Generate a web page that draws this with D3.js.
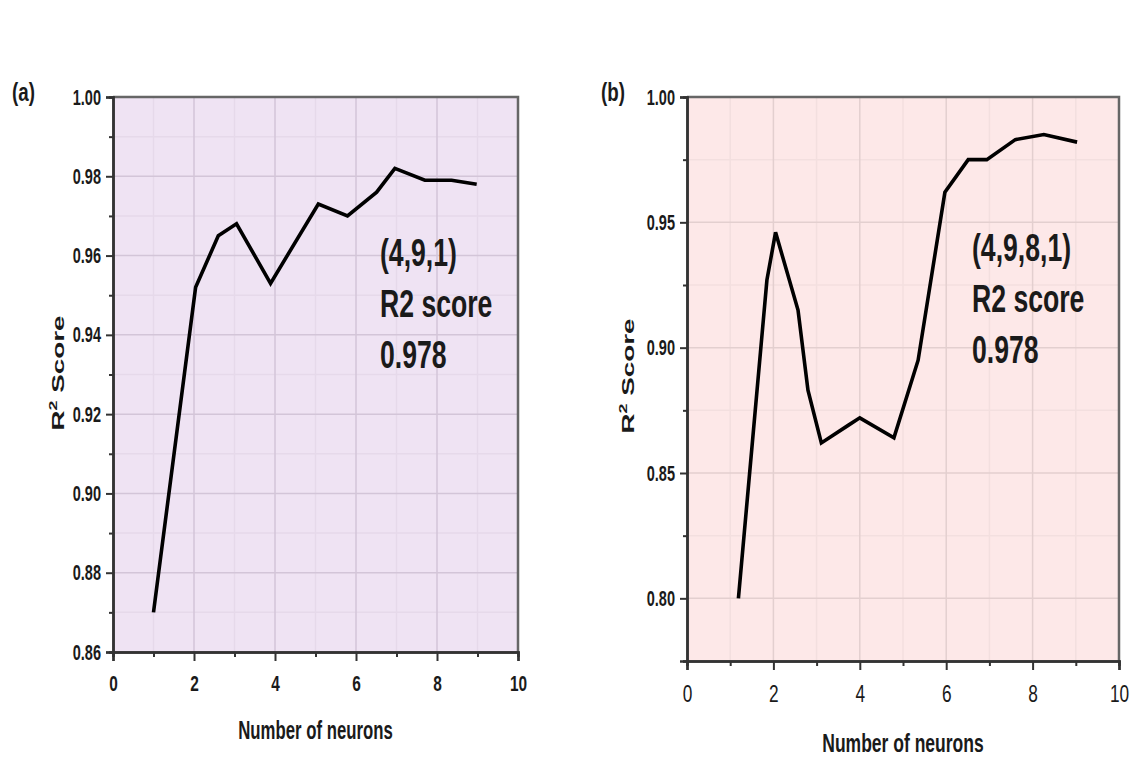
<!DOCTYPE html>
<html>
<head>
<meta charset="utf-8">
<script src="https://cdn.jsdelivr.net/npm/d3@7"></script>
<style>
  html, body { margin: 0; padding: 0; background: #fff; overflow: hidden; }
  svg { display: block; }
  text { font-family: "Liberation Sans Narrow", "Liberation Sans", Arial, sans-serif; fill: #1a1a1a; }
</style>
</head>
<body>
<div id="chart"></div>
<script>
// values
const neuronsA = [1, 2.04, 2.6, 3.05, 3.89, 5.07, 5.79, 6.51, 6.96, 7.7, 8.36, 8.98];
const scoreA   = [0.870, 0.952, 0.965, 0.968, 0.953, 0.973, 0.970, 0.976, 0.982, 0.979, 0.979, 0.978];

const neuronsB = [1.19, 1.85, 2.05, 2.57, 2.8, 3.11, 3.73, 4.0, 4.79, 5.35, 5.97, 6.51, 6.94, 7.6, 8.26, 9.03];
const scoreB   = [0.800, 0.927, 0.946, 0.915, 0.883, 0.862, 0.869, 0.872, 0.864, 0.895, 0.962, 0.975, 0.975, 0.983, 0.985, 0.982];

const xTicks  = [0, 2, 4, 6, 8, 10];
const yTicksA = [0.86, 0.88, 0.90, 0.92, 0.94, 0.96, 0.98, 1.00];
const yTicksB = [0.80, 0.85, 0.90, 0.95, 1.00];

const notesA = ["(4,9,1)", "R2 score", "0.978"];
const notesB = ["(4,9,8,1)", "R2 score", "0.978"];

const width = 1133, height = 775;

const svg = d3.select("#chart").append("svg")
    .attr("width", width)
    .attr("height", height);

// squeeze text horizontally to mimic the tall condensed face of the original
function narrow(sel, f) {
  sel.each(function() {
    const w = this.getComputedTextLength();
    if (w > 0) {
      d3.select(this).attr("textLength", w * f).attr("lengthAdjust", "spacingAndGlyphs");
    }
  });
}

function drawPanel(p) {
  const x = d3.scaleLinear().domain([0, 10]).range([p.left, p.right]);
  const y = d3.scaleLinear().domain(p.yDomain).range([p.bottom, p.top]);
  const g = svg.append("g");

  // background
  g.append("rect")
      .attr("x", p.left).attr("y", p.top)
      .attr("width", p.right - p.left).attr("height", p.bottom - p.top)
      .attr("fill", p.bg);

  // minor grid
  const xMinor = d3.range(1, 10, 2);
  const yMinor = p.yMajor.slice(0, -1).map(v => v + p.yStep / 2)
      .concat(p.yDomain[0] < p.yMajor[0] ? [p.yMajor[0] - p.yStep / 2] : []);
  g.append("g").attr("stroke", p.minorGrid).attr("stroke-width", 1.5)
    .selectAll("line").data(xMinor).join("line")
      .attr("x1", d => x(d)).attr("x2", d => x(d))
      .attr("y1", p.top).attr("y2", p.bottom);
  g.append("g").attr("stroke", p.minorGrid).attr("stroke-width", 1.5)
    .selectAll("line").data(yMinor).join("line")
      .attr("x1", p.left).attr("x2", p.right)
      .attr("y1", d => y(d)).attr("y2", d => y(d));

  // major grid
  g.append("g").attr("stroke", p.majorGrid).attr("stroke-width", 1.5)
    .selectAll("line").data(xTicks.slice(1, -1)).join("line")
      .attr("x1", d => x(d)).attr("x2", d => x(d))
      .attr("y1", p.top).attr("y2", p.bottom);
  g.append("g").attr("stroke", p.majorGrid).attr("stroke-width", 1.5)
    .selectAll("line").data(p.yMajor.filter(v => v < p.yDomain[1])).join("line")
      .attr("x1", p.left).attr("x2", p.right)
      .attr("y1", d => y(d)).attr("y2", d => y(d));

  // top and right frame
  g.append("path")
      .attr("d", `M${p.left},${p.top}H${p.right}V${p.bottom}`)
      .attr("fill", "none").attr("stroke", "#666").attr("stroke-width", 2.5);

  // axes
  const xAxis = d3.axisBottom(x).tickValues(xTicks).tickSize(9).tickPadding(p.xPad).tickFormat(d3.format("d"));
  const xMinorAxis = d3.axisBottom(x).tickValues(xMinor).tickSize(5).tickFormat("");
  const yAxis = d3.axisLeft(y).tickValues(p.yMajor).tickSize(7).tickPadding(5).tickFormat(d3.format(".2f"));
  const yMinorAxis = d3.axisLeft(y).tickValues(yMinor).tickSize(4).tickFormat("");

  const gx = g.append("g").attr("transform", `translate(0,${p.bottom})`).call(xAxis);
  g.append("g").attr("transform", `translate(0,${p.bottom})`).call(xMinorAxis);
  const gy = g.append("g").attr("transform", `translate(${p.left},0)`).call(yAxis);
  g.append("g").attr("transform", `translate(${p.left},0)`).call(yMinorAxis);

  g.selectAll(".domain").attr("stroke", "#333").attr("stroke-width", 2.5);
  g.selectAll(".tick line").attr("stroke", "#333").attr("stroke-width", 2);
  gx.selectAll("text").attr("font-size", p.xFont).attr("font-weight", p.xWeight).attr("fill", "#1a1a1a")
      .call(narrow, p.xNarrow);
  gy.selectAll("text").attr("font-size", 22).attr("font-weight", "bold").attr("fill", "#1a1a1a")
      .call(narrow, 0.66);

  // data line
  const pts = p.xs.map((v, i) => [v, p.ys[i]]);
  g.append("path")
      .datum(pts)
      .attr("fill", "none")
      .attr("stroke", "#000")
      .attr("stroke-width", 3.6)
      .attr("stroke-linejoin", "miter")
      .attr("d", d3.line().x(d => x(d[0])).y(d => y(d[1])));

  // annotation
  g.append("g").selectAll("text").data(p.notes).join("text")
      .attr("x", p.noteX)
      .attr("y", (d, i) => p.noteY + i * 51)
      .attr("font-size", 38)
      .attr("font-weight", "bold")
      .text(d => d)
      .call(narrow, 0.7);

  // panel letter
  g.append("text")
      .attr("x", p.letterX).attr("y", 101)
      .attr("font-size", 25).attr("font-weight", "bold")
      .text(p.letter)
      .call(narrow, 0.75);

  // axis titles
  g.append("text")
      .attr("x", (p.left + p.right) / 2)
      .attr("y", p.xTitleY)
      .attr("text-anchor", "middle")
      .attr("font-size", 25).attr("font-weight", "bold")
      .text("Number of neurons")
      .call(narrow, p.xTitleNarrow);

  const yt = g.append("text")
      .attr("transform", `translate(${p.yTitleX},${p.yTitleMid}) rotate(-90)`)
      .attr("text-anchor", "middle")
      .attr("font-family", "'Liberation Sans', Arial, sans-serif")
      .attr("font-size", 17).attr("font-weight", "bold")
      .attr("textLength", 115).attr("lengthAdjust", "spacingAndGlyphs");
  yt.append("tspan").text("R");
  yt.append("tspan").attr("font-size", 11).attr("dy", -7).text("2");
  yt.append("tspan").attr("dy", 7).text(" Score");
}

drawPanel({
  left: 113, right: 518, top: 97, bottom: 652,
  yDomain: [0.86, 1.00], yMajor: yTicksA, yStep: 0.02,
  bg: "#efe3f3", majorGrid: "#d3c5d8", minorGrid: "#e6d9ea",
  xs: neuronsA, ys: scoreA,
  notes: notesA, noteX: 380, noteY: 266,
  letter: "(a)", letterX: 12,
  xFont: 22, xWeight: "bold", xNarrow: 0.7, xPad: 14,
  xTitleY: 739, xTitleNarrow: 0.67,
  yTitleX: 64, yTitleMid: 373
});

drawPanel({
  left: 687, right: 1119, top: 97, bottom: 661,
  yDomain: [0.775, 1.00], yMajor: yTicksB, yStep: 0.05,
  bg: "#fde8e8", majorGrid: "#e3cfcf", minorGrid: "#f3dfdf",
  xs: neuronsB, ys: scoreB,
  notes: notesB, noteX: 972, noteY: 261,
  letter: "(b)", letterX: 601,
  xFont: 24, xWeight: "normal", xNarrow: 0.72, xPad: 15,
  xTitleY: 752, xTitleNarrow: 0.7,
  yTitleX: 634, yTitleMid: 376
});
</script>
</body>
</html>
